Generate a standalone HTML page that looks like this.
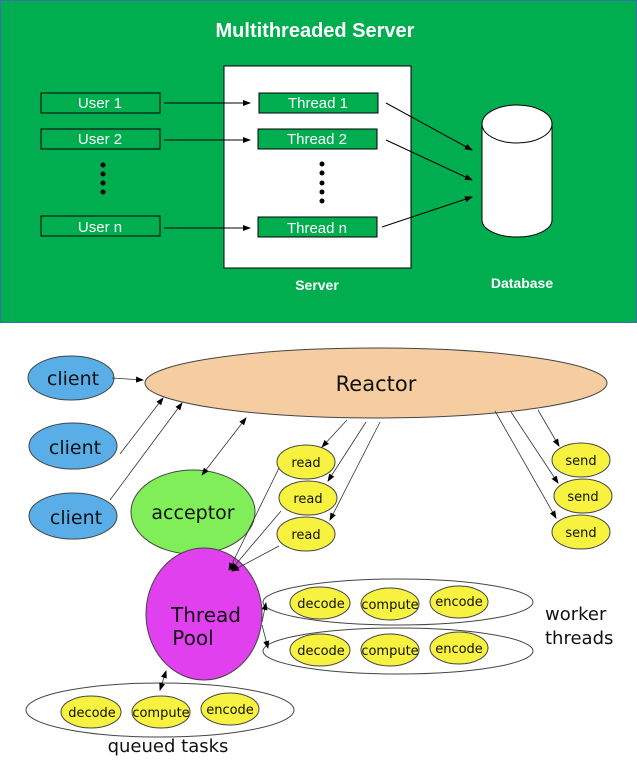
<!DOCTYPE html>
<html><head><meta charset="utf-8"><style>
html,body{margin:0;padding:0;background:#fff;}
svg{display:block;}
</style></head><body>
<svg width="637" height="772" viewBox="0 0 637 772" xmlns="http://www.w3.org/2000/svg">
<defs>
<marker id="a" markerWidth="8" markerHeight="8" refX="7" refY="4" orient="auto" markerUnits="userSpaceOnUse"><path d="M0,1 L8,4 L0,7 z" fill="#000"/></marker>
<marker id="b" markerWidth="8" markerHeight="8" refX="1" refY="4" orient="auto" markerUnits="userSpaceOnUse"><path d="M8,1 L0,4 L8,7 z" fill="#000"/></marker>
</defs>
<rect x="0.5" y="0.5" width="636" height="322" fill="#00ad4f" stroke="#3a6fb0" stroke-width="1"/>
<text x="315" y="37" font-family="Liberation Sans, sans-serif" font-weight="bold" font-size="20" fill="#fff" text-anchor="middle">Multithreaded Server</text>
<rect x="224" y="66" width="187" height="202" fill="#fff" stroke="#000" stroke-width="1"/>
<g stroke="#000" stroke-width="1" fill="#00ad4f">
<rect x="41" y="93" width="119" height="20"/>
<rect x="41" y="129" width="119" height="20"/>
<rect x="41" y="216" width="119" height="20"/>
<rect x="259" y="93" width="119" height="20"/>
<rect x="258" y="129" width="119" height="20"/>
<rect x="258" y="217" width="119" height="20"/>
</g>
<g font-family="Liberation Sans, sans-serif" font-size="15" fill="#fff" text-anchor="middle">
<text x="100" y="108">User 1</text><text x="100" y="144">User 2</text><text x="100" y="232">User n</text>
<text x="318" y="108">Thread 1</text><text x="317" y="144">Thread 2</text><text x="317" y="233">Thread n</text>
<text x="317" y="290" font-weight="bold" font-size="14">Server</text>
<text x="522" y="288" font-weight="bold" font-size="14">Database</text>
</g>
<g fill="#000">
<circle cx="103" cy="165" r="2.5"/><circle cx="103" cy="174" r="2.5"/><circle cx="103" cy="183" r="2.5"/><circle cx="103" cy="192" r="2.5"/>
<circle cx="322" cy="164" r="2.5"/><circle cx="322" cy="173" r="2.5"/><circle cx="322" cy="183" r="2.5"/><circle cx="322" cy="192" r="2.5"/><circle cx="322" cy="201" r="2.5"/>
</g>
<g stroke="#000" stroke-width="1" fill="none" marker-end="url(#a)">
<line x1="164" y1="103" x2="250" y2="103"/>
<line x1="164" y1="140" x2="250" y2="140"/>
<line x1="164" y1="228" x2="250" y2="228"/>
<line x1="386" y1="103" x2="472" y2="150"/>
<line x1="386" y1="140" x2="472" y2="180"/>
<line x1="382" y1="227" x2="472" y2="197"/>
</g>
<path d="M482,124 L482,220 A35,17 0 0 0 552,220 L552,124 Z" fill="#fff" stroke="#000"/>
<ellipse cx="517" cy="124" rx="35" ry="19" fill="#fff" stroke="#000"/>
<g stroke="#444" stroke-width="1">
<ellipse cx="376" cy="383" rx="231" ry="35" fill="#f5cda0"/>
<ellipse cx="71" cy="378" rx="43" ry="22" fill="#5aaee8"/>
<ellipse cx="73" cy="446" rx="44" ry="23" fill="#5aaee8"/>
<ellipse cx="73" cy="516" rx="44" ry="23" fill="#5aaee8"/>
<ellipse cx="193" cy="512" rx="62" ry="42" fill="#80ee58"/>
<ellipse cx="306" cy="462" rx="29" ry="17" fill="#f7f240"/>
<ellipse cx="308" cy="498" rx="29" ry="17" fill="#f7f240"/>
<ellipse cx="306" cy="534" rx="29" ry="17" fill="#f7f240"/>
<ellipse cx="581" cy="460" rx="29" ry="17" fill="#f7f240"/>
<ellipse cx="583" cy="496" rx="29" ry="17" fill="#f7f240"/>
<ellipse cx="581" cy="532" rx="29" ry="17" fill="#f7f240"/>
<ellipse cx="204" cy="614" rx="58" ry="66" fill="#e040ee"/>
<ellipse cx="398" cy="602" rx="135" ry="23" fill="none"/>
<ellipse cx="398" cy="651" rx="135" ry="23" fill="none"/>
<ellipse cx="160" cy="710" rx="134" ry="27" fill="none"/>
<ellipse cx="320" cy="603" rx="30" ry="16" fill="#f7f240"/>
<ellipse cx="390" cy="604" rx="29" ry="16" fill="#f7f240"/>
<ellipse cx="459" cy="602" rx="29" ry="16" fill="#f7f240"/>
<ellipse cx="320" cy="650" rx="30" ry="16" fill="#f7f240"/>
<ellipse cx="390" cy="650" rx="29" ry="16" fill="#f7f240"/>
<ellipse cx="459" cy="648" rx="29" ry="16" fill="#f7f240"/>
<ellipse cx="91" cy="712" rx="30" ry="16" fill="#f7f240"/>
<ellipse cx="161" cy="712" rx="29" ry="16" fill="#f7f240"/>
<ellipse cx="230" cy="709" rx="29" ry="16" fill="#f7f240"/>
</g>
<g stroke="#333" stroke-width="0.8" fill="none" marker-end="url(#a)">
<line x1="112" y1="378" x2="143" y2="380"/>
<line x1="120" y1="454" x2="163" y2="398"/>
<line x1="110" y1="500" x2="182" y2="403"/>
<line x1="202" y1="475" x2="246" y2="418" marker-start="url(#b)"/>
<line x1="347" y1="420" x2="322" y2="447"/>
<line x1="366" y1="422" x2="328" y2="481"/>
<line x1="380" y1="422" x2="330" y2="520"/>
<line x1="279" y1="468" x2="229" y2="570"/>
<line x1="281" y1="511" x2="231" y2="570"/>
<line x1="279" y1="546" x2="232" y2="571"/>
<line x1="495" y1="411" x2="556" y2="518"/>
<line x1="511" y1="412" x2="558" y2="483"/>
<line x1="538" y1="410" x2="559" y2="446"/>
<line x1="262" y1="622" x2="266" y2="603"/>
<line x1="262" y1="625" x2="268" y2="648"/>
<line x1="160" y1="690" x2="166" y2="671" marker-start="url(#b)"/>
</g>
<g font-family="DejaVu Sans, sans-serif" fill="#111" text-anchor="middle">
<text x="376" y="391" font-size="21">Reactor</text>
<text x="73" y="385" font-size="19">client</text>
<text x="75" y="454" font-size="19">client</text>
<text x="76" y="524" font-size="19">client</text>
<text x="193" y="519" font-size="19">acceptor</text>
<text x="306" y="467" font-size="13">read</text>
<text x="308" y="503" font-size="13">read</text>
<text x="306" y="539" font-size="13">read</text>
<text x="581" y="465" font-size="13">send</text>
<text x="583" y="501" font-size="13">send</text>
<text x="581" y="537" font-size="13">send</text>
<text x="206" y="622" font-size="20">Thread</text>
<text x="193" y="645" font-size="20">Pool</text>
<g font-size="13">
<text x="321" y="608">decode</text><text x="390" y="609">compute</text><text x="459" y="606">encode</text>
<text x="321" y="655">decode</text><text x="390" y="655">compute</text><text x="459" y="653">encode</text>
<text x="92" y="717">decode</text><text x="161" y="717">compute</text><text x="230" y="714">encode</text>
</g>
<text x="545" y="620" font-size="18" text-anchor="start">worker</text>
<text x="545" y="644" font-size="18" text-anchor="start">threads</text>
<text x="168" y="752" font-size="18">queued tasks</text>
</g>
</svg>
</body></html>
